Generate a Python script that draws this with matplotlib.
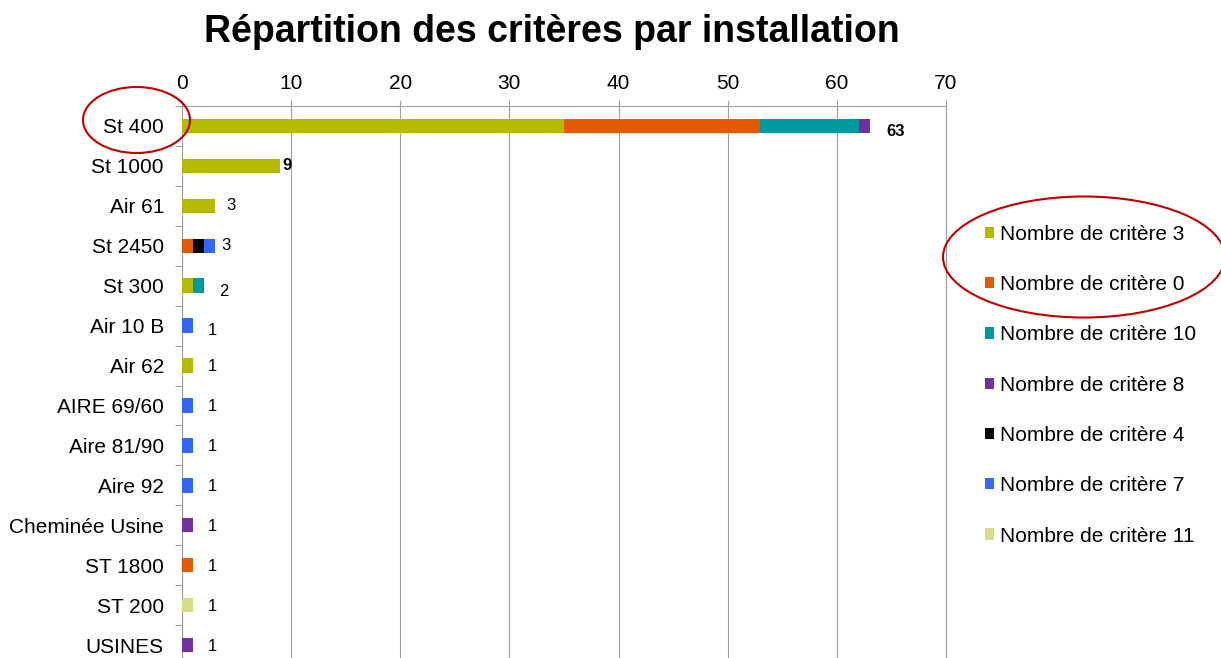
import matplotlib.pyplot as plt
from matplotlib.patches import Ellipse
import numpy as np

plt.rcParams['font.family'] = ['Liberation Sans', 'DejaVu Sans']

# installations, top to bottom
categories = ['St 400', 'St 1000', 'Air 61', 'St 2450', 'St 300', 'Air 10 B', 'Air 62',
              'AIRE 69/60', 'Aire 81/90', 'Aire 92', 'Cheminée Usine', 'ST 1800',
              'ST 200', 'USINES']

# counts per series (same order as categories)
crit3 = [35, 9, 3, 0, 1, 0, 1, 0, 0, 0, 0, 0, 0, 0]
crit0 = [18, 0, 0, 1, 0, 0, 0, 0, 0, 0, 0, 1, 0, 0]
crit10 = [9, 0, 0, 0, 1, 0, 0, 0, 0, 0, 0, 0, 0, 0]
crit8 = [1, 0, 0, 0, 0, 0, 0, 0, 0, 0, 1, 0, 0, 1]
crit4 = [0, 0, 0, 1, 0, 0, 0, 0, 0, 0, 0, 0, 0, 0]
crit7 = [0, 0, 0, 1, 0, 1, 0, 1, 1, 1, 0, 0, 0, 0]
crit11 = [0, 0, 0, 0, 0, 0, 0, 0, 0, 0, 0, 0, 1, 0]

series_names = ['Nombre de critère 3', 'Nombre de critère 0', 'Nombre de critère 10',
                'Nombre de critère 8', 'Nombre de critère 4', 'Nombre de critère 7',
                'Nombre de critère 11']
series = [crit3, crit0, crit10, crit8, crit4, crit7, crit11]
colors = ['#B3BA00', '#E35B00', '#00999E', '#7030A0', '#000000', '#3366FF', '#D8DC85']

# label styling: pixel offsets (dx, dy) and bold flag
label_dx = [17, 2, 12, 7, 15, 15, 15, 15, 15, 15, 15, 15, 15, 15]
label_dy = [-6, 0, 0, 0, -6, -5, -1, -1, -1, -1, -1, -1, -1, -1]
label_bold = [True, True] + [False] * 12

fig = plt.figure(figsize=(12.21, 6.58), dpi=100)
# axes bottom extends just past the figure edge, as in the screenshot
ax = fig.add_axes([182 / 1221, (658 - 665) / 658, (946 - 182) / 1221, (665 - 106) / 658])

y = np.arange(len(categories))
left = np.zeros(len(categories))
for name, vals, c in zip(series_names, series, colors):
    vals = np.array(vals, dtype=float)
    ax.barh(y, vals, left=left, height=0.36, color=c, label=name, zorder=3)
    left += vals

totals = left
for i, tot in enumerate(totals):
    ax.annotate(f"{int(tot)}", (tot, y[i]), xytext=(label_dx[i] * 0.72, label_dy[i] * 0.72),
                textcoords='offset points', ha='left', va='center', fontsize=12,
                fontweight='bold' if label_bold[i] else 'normal', color='black')

ax.set_xlim(0, 70)
ax.set_ylim(len(categories) - 0.5, -0.5)
ax.xaxis.tick_top()
ax.set_xticks(np.arange(0, 71, 10))
ax.tick_params(axis='x', direction='out', length=4.3, width=0.8, color='#A0A0A0',
               labelsize=15, pad=5)
ax.set_yticks(y)
ax.set_yticklabels(categories)
ax.set_yticks(np.arange(len(categories) + 1) - 0.5, minor=True)
ax.tick_params(axis='y', which='major', length=0, labelsize=15, pad=13)
ax.tick_params(axis='y', which='minor', direction='out', length=5, width=0.8, color='#A0A0A0')
ax.grid(axis='x', color='#A0A0A0', linewidth=0.8, zorder=0)
ax.spines['bottom'].set_visible(False)
for s in ['left', 'top', 'right']:
    ax.spines[s].set_color('#A0A0A0')
    ax.spines[s].set_linewidth(0.8)

fig.legend(loc='upper left', bbox_to_anchor=(985 / 1221, 1 - 225 / 658), frameon=False,
           fontsize=15, handlelength=0.45, handleheight=0.45, handletextpad=0.25,
           labelspacing=1.5, borderpad=0, borderaxespad=0)

fig.text(552 / 1221, 1 - 42 / 658, 'Répartition des critères par installation',
         ha='center', va='baseline', fontsize=27, fontweight='bold')

# red highlight ellipses
fig.patches.append(Ellipse((136.5 / 1221, 1 - 120 / 658), 107 / 1221, 66 / 658,
                           transform=fig.transFigure, fill=False, edgecolor='#C00000',
                           linewidth=1.5))
fig.patches.append(Ellipse((1084 / 1221, 1 - 257 / 658), 282 / 1221, 121 / 658,
                           transform=fig.transFigure, fill=False, edgecolor='#C00000',
                           linewidth=1.5))

fig.savefig('out.png', dpi=100)
